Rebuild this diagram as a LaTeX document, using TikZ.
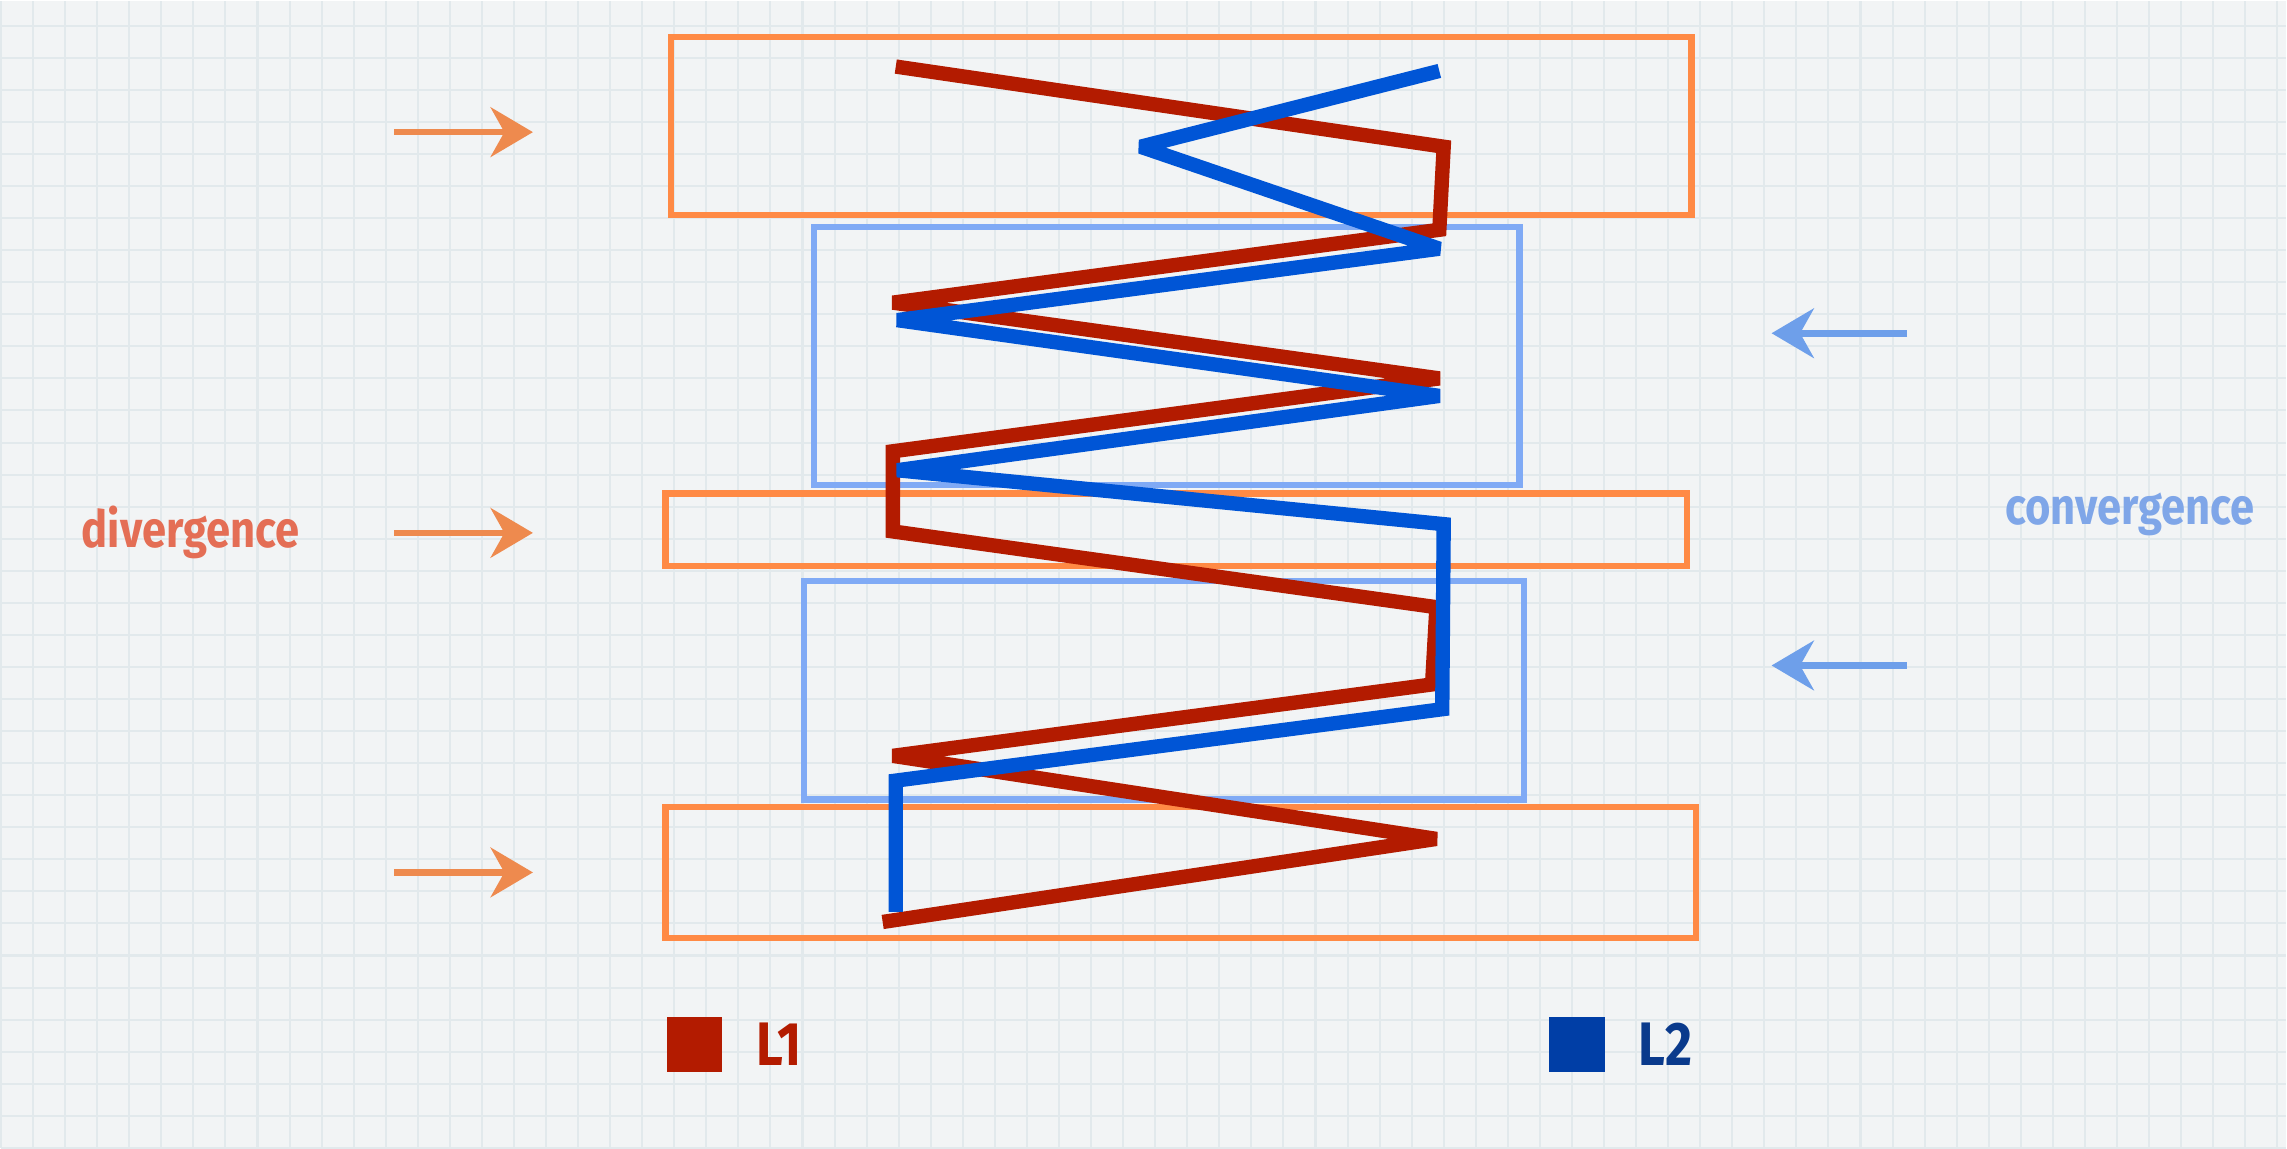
\documentclass[tikz,border=0pt]{standalone}
\usepackage{fontspec}
\usetikzlibrary{arrows.meta, positioning}
\newfontfamily\handfont{Fira Sans}[FakeStretch=0.85]
\definecolor{wzpaper}{HTML}{F2F4F5}
\definecolor{wzgrid}{HTML}{E2E9EC}
\definecolor{wzorange}{HTML}{FF8A45}
\definecolor{wzlightblue}{HTML}{80AAF5}
\definecolor{wzarrorange}{HTML}{EE8A4E}
\definecolor{wzarrblue}{HTML}{6E9FEA}
\definecolor{wzdivtext}{HTML}{E46E55}
\definecolor{wzconvtext}{HTML}{7FA6E8}
\definecolor{wzred}{HTML}{B31B00}
\definecolor{wzblue}{HTML}{0055D6}
\definecolor{wzkeyblue}{HTML}{003EA6}
\definecolor{wzkeytext}{HTML}{0A3A8C}

\begin{document}
\begin{tikzpicture}[
  divbox/.style={draw=wzorange, line width=1.2pt, inner sep=0pt, outer sep=0pt},
  convbox/.style={draw=wzlightblue, line width=1.2pt, inner sep=0pt, outer sep=0pt},
  divarr/.style={-{Stealth[length=2.9mm, width=3.4mm]}, line width=1.3pt, draw=wzarrorange},
  convarr/.style={-{Stealth[length=2.9mm, width=3.4mm]}, line width=1.3pt, draw=wzarrblue},
  lone/.style={line width=2.8pt, draw=wzred, miter limit=2},
  ltwo/.style={line width=2.8pt, draw=wzblue, miter limit=2},
  key/.style={minimum size=3.8mm, inner sep=0pt},
  tag/.style={font=\handfont\bfseries\fontsize{10}{12}\selectfont, inner sep=0pt},
  keytag/.style={font=\handfont\bfseries\fontsize{12}{14}\selectfont, inner sep=0pt},
]
  % paper
  \fill[wzpaper] (0,0) rectangle (15.68,7.87);
  \draw[wzgrid, line width=0.4pt, step=0.22] (0,0) grid (15.68,7.87);
  \useasboundingbox (0,0) rectangle (15.68,7.87);

  % layers
  \node[divbox, minimum width=7cm, minimum height=1.22cm] (divtop) at (8.10,7.01) {};
  \node[convbox, minimum width=4.84cm, minimum height=1.77cm] (convup) at (8.00,5.435) {};
  \node[divbox, minimum width=7.01cm, minimum height=0.5cm] (divmid) at (8.065,4.24) {};
  \node[convbox, minimum width=4.94cm, minimum height=1.5cm] (convlow) at (7.98,3.14) {};
  \node[divbox, minimum width=7.07cm, minimum height=0.9cm] (divbot) at (8.095,1.89) {};

  % L1 and L2
  \draw[lone] (6.14,7.42) -- (9.90,6.87) -- (9.87,6.30) -- (6.12,5.80) -- (9.87,5.28)
    -- (6.12,4.78) -- (6.12,4.23) -- (9.85,3.71) -- (9.82,3.18) -- (6.12,2.69)
    -- (9.85,2.12) -- (6.05,1.55);
  \draw[ltwo] (9.87,7.39) -- (7.82,6.87) -- (9.87,6.17) -- (6.15,5.68) -- (9.87,5.16)
    -- (6.15,4.65) -- (9.90,4.28) -- (9.89,3.01) -- (6.14,2.52) -- (6.14,1.62);

  % side arrows
  \coordinate (da1) at (2.70,6.97);  \coordinate (db1) at (3.65,6.97);
  \coordinate (da2) at (2.70,4.22);  \coordinate (db2) at (3.65,4.22);
  \coordinate (da3) at (2.70,1.89);  \coordinate (db3) at (3.65,1.89);
  \coordinate (ca1) at (13.08,5.59); \coordinate (cb1) at (12.15,5.59);
  \coordinate (ca2) at (13.08,3.31); \coordinate (cb2) at (12.15,3.31);
  \draw[divarr] (da1) -- (db1);
  \draw[divarr] (da2) -- (db2);
  \draw[divarr] (da3) -- (db3);
  \draw[convarr] (ca1) -- (cb1);
  \draw[convarr] (ca2) -- (cb2);

  \node[tag, text=wzdivtext] (divlabel) at (1.30,4.22) {divergence};
  \node[tag, text=wzconvtext] (convlabel) at (14.61,4.35) {convergence};

  % legend
  \node[key, fill=wzred] (keyone) at (4.76,0.71) {};
  \node[keytag, text=wzred, right=0.22cm of keyone] (labone) {L1};
  \node[key, fill=wzkeyblue] (keytwo) at (10.815,0.71) {};
  \node[keytag, text=wzkeytext, right=0.22cm of keytwo] (labtwo) {L2};
\end{tikzpicture}
\end{document}
